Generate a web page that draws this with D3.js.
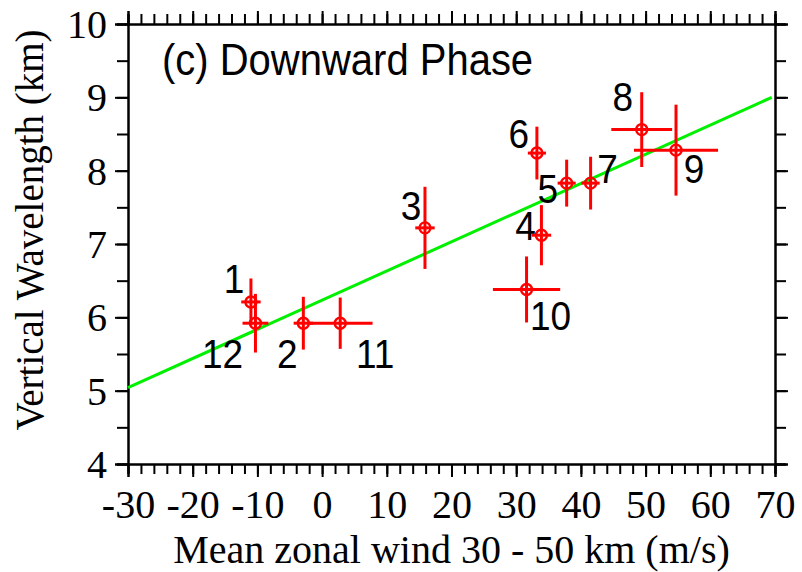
<!DOCTYPE html>
<html>
<head>
<meta charset="utf-8">
<script src="https://cdn.jsdelivr.net/npm/d3@7"></script>
<style>
  html, body { margin: 0; padding: 0; background: #fff; }
  svg { display: block; }
  .tick text { font-family: "Liberation Serif", "Times New Roman", serif; font-size: 40px; fill: #000; }
</style>
</head>
<body>
<svg id="chart" width="802" height="572"></svg>
<script>
// Month numbers of each case
const caseIds = [1, 2, 3, 4, 5, 6, 7, 8, 9, 10, 11, 12];
// Mean zonal wind 30-50 km (m/s) and its uncertainty
const meanWind = [-11.0, -2.9, 15.9, 33.9, 37.8, 33.2, 41.5, 49.4, 54.7, 31.6, 2.8, -10.3];
const windErr  = [1.5, 1.5, 1.5, 1.5, 1.4, 1.4, 1.4, 4.7, 6.5, 5.2, 5.0, 2.0];
// Vertical wavelength (km) and its uncertainty
const wavelength = [6.21, 5.92, 7.22, 7.12, 7.83, 8.24, 7.83, 8.56, 8.28, 6.38, 5.92, 5.92];
const waveErr    = [0.32, 0.36, 0.56, 0.41, 0.32, 0.36, 0.36, 0.51, 0.62, 0.45, 0.35, 0.40];
// Linear fit end points
const fitWind = [-30, 69.5];
const fitWave = [5.04, 9.00];
// Axis ticks
const xTicks = [-30, -20, -10, 0, 10, 20, 30, 40, 50, 60, 70];
const yTicks = [4, 5, 6, 7, 8, 9, 10];

// Label placement relative to each marker (pixels)
const labelOffsets = [
  [-17, -9], [-16, 45], [-14, -8], [-16, 5], [-19, 20], [-18, -5],
  [17, 0], [-19, -19], [18, 33], [24, 41], [35, 45], [-33, 45]
];

const svg = d3.select("#chart");
const plotL = 128, plotR = 775, plotT = 24, plotB = 464;

const x = d3.scaleLinear().domain([-30, 70]).range([plotL, plotR]);
const y = d3.scaleLinear().domain([4, 10]).range([plotB, plotT]);

const xMinor = d3.range(-30, 70.001, 2);
const yMinor = d3.range(4, 10.001, 0.5);

function styleAxis(g) {
  g.selectAll("path.domain").attr("stroke", "#000").attr("stroke-width", 2);
  g.selectAll(".tick line").attr("stroke", "#000").attr("stroke-width", 2);
}

// Minor ticks
svg.append("g").attr("transform", `translate(0,${plotB})`)
  .call(d3.axisBottom(x).tickValues(xMinor).tickSize(10).tickFormat(""))
  .call(styleAxis);
svg.append("g").attr("transform", `translate(0,${plotT})`)
  .call(d3.axisTop(x).tickValues(xMinor).tickSize(10).tickFormat(""))
  .call(styleAxis);
svg.append("g").attr("transform", `translate(${plotL},0)`)
  .call(d3.axisLeft(y).tickValues(yMinor).tickSize(11).tickFormat(""))
  .call(styleAxis);
svg.append("g").attr("transform", `translate(${plotR},0)`)
  .call(d3.axisRight(y).tickValues(yMinor).tickSize(11).tickFormat(""))
  .call(styleAxis);

// Major ticks
svg.append("g").attr("transform", `translate(0,${plotB})`)
  .call(d3.axisBottom(x).tickValues(xTicks).tickSize(13).tickPadding(13).tickFormat(d => d < 0 ? "-" + Math.abs(d) : String(d)))
  .call(styleAxis);
svg.append("g").attr("transform", `translate(0,${plotT})`)
  .call(d3.axisTop(x).tickValues(xTicks).tickSize(13).tickFormat(""))
  .call(styleAxis);
svg.append("g").attr("transform", `translate(${plotL},0)`)
  .call(d3.axisLeft(y).tickValues(yTicks).tickSize(13).tickPadding(8).tickFormat(d3.format("d")))
  .call(styleAxis)
  .selectAll(".tick text").attr("dy", "0.34em");
svg.append("g").attr("transform", `translate(${plotR},0)`)
  .call(d3.axisRight(y).tickValues(yTicks).tickSize(13).tickFormat(""))
  .call(styleAxis);

// Fit line
svg.append("path")
  .datum(d3.zip(fitWind, fitWave))
  .attr("d", d3.line().x(d => x(d[0])).y(d => y(d[1])))
  .attr("stroke", "#00f000")
  .attr("stroke-width", 3)
  .attr("fill", "none");

// Error bars and markers
const pts = caseIds.map((id, i) => ({
  id, w: meanWind[i], we: windErr[i], v: wavelength[i], ve: waveErr[i], off: labelOffsets[i]
}));

const g = svg.append("g");
g.selectAll("line.xerr").data(pts).join("line")
  .attr("class", "xerr")
  .attr("x1", d => x(d.w - d.we)).attr("x2", d => x(d.w + d.we))
  .attr("y1", d => y(d.v)).attr("y2", d => y(d.v))
  .attr("stroke", "#ff0000").attr("stroke-width", 3);
g.selectAll("line.yerr").data(pts).join("line")
  .attr("class", "yerr")
  .attr("x1", d => x(d.w)).attr("x2", d => x(d.w))
  .attr("y1", d => y(d.v - d.ve)).attr("y2", d => y(d.v + d.ve))
  .attr("stroke", "#ff0000").attr("stroke-width", 3);
g.selectAll("circle").data(pts).join("circle")
  .attr("cx", d => x(d.w)).attr("cy", d => y(d.v)).attr("r", 5.5)
  .attr("fill", "none").attr("stroke", "#ff0000").attr("stroke-width", 2.4);

// Case labels (sans text is drawn slightly tall)
svg.append("g").selectAll("text").data(pts).join("text")
  .attr("transform", d => `translate(${x(d.w) + d.off[0]},${y(d.v) + d.off[1]}) scale(1,1.1)`)
  .attr("text-anchor", "middle")
  .attr("font-family", "'Liberation Sans', Arial, sans-serif")
  .attr("font-size", 37)
  .attr("fill", "#000")
  .text(d => d.id);

// Panel title
svg.append("text")
  .attr("transform", "translate(162,75) scale(1,1.1)")
  .attr("font-family", "'Liberation Sans', Arial, sans-serif")
  .attr("font-size", 40)
  .attr("fill", "#000")
  .text("(c) Downward Phase");

// Axis titles
svg.append("text")
  .attr("x", (plotL + plotR) / 2).attr("y", 563)
  .attr("text-anchor", "middle")
  .attr("font-family", "'Liberation Serif', 'Times New Roman', serif")
  .attr("font-size", 40)
  .attr("fill", "#000")
  .text("Mean zonal wind 30 - 50 km (m/s)");
svg.append("text")
  .attr("transform", "translate(43,230) rotate(-90)")
  .attr("text-anchor", "middle")
  .attr("font-family", "'Liberation Serif', 'Times New Roman', serif")
  .attr("font-size", 39)
  .attr("fill", "#000")
  .text("Vertical Wavelength (km)");
</script>
</body>
</html>
